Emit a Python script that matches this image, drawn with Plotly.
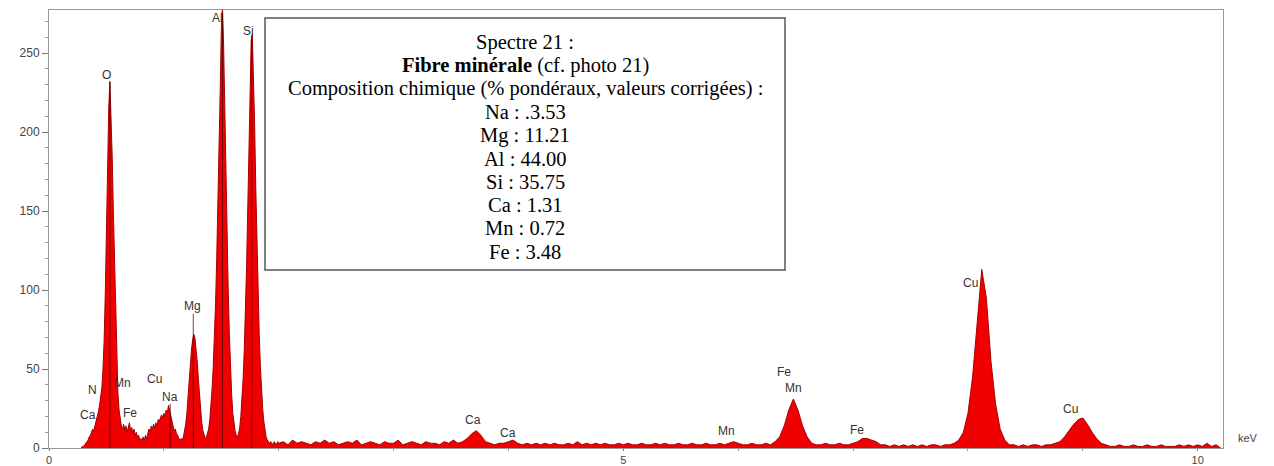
import numpy as np
import plotly.graph_objects as go

# ---------------- data ----------------
# low-energy part of the spectrum: channels of 0.01 keV starting at 0.28 keV
low_start_kev = 0.28
low_step_kev = 0.01
low_counts = [
    0, 1, 1, 2, 3, 4, 5, 7, 8, 10,            # 0.28-0.37
    12, 11, 14, 16, 19, 23, 27, 32, 38, 50,   # 0.38-0.47
    68, 98, 140, 185, 215, 232, 210, 185, 150, 118,  # 0.48-0.57 (O)
    92, 55, 35, 24, 17, 14, 12, 15, 11, 14,   # 0.58-0.67
    10, 13, 16, 11, 13, 9, 12, 8, 10, 7,      # 0.68-0.77
    8, 5, 6, 5, 7, 5, 8, 6, 9, 12,            # 0.78-0.87
    10, 14, 12, 15, 13, 16, 14, 18, 17, 19,   # 0.88-0.97
    21, 19, 22, 20, 24, 22, 27, 24, 20, 17,   # 0.98-1.07 (Na)
    14, 11, 12, 9, 8, 6, 5, 6, 5, 7,          # 1.08-1.17
    10, 15, 22, 32, 45, 55, 62, 68, 72, 70,   # 1.18-1.27 (Mg)
    64, 55, 44, 33, 24, 16, 11, 8, 6, 7,      # 1.28-1.37
    9, 12, 18, 26, 38, 52, 70, 92, 120, 150,  # 1.38-1.47
    185, 225, 265, 280, 255, 210, 170, 135, 100, 72,  # 1.48-1.57 (Al)
    50, 34, 22, 15, 11, 8, 7, 9, 13, 20,      # 1.58-1.67
    30, 44, 62, 85, 115, 150, 190, 230, 258, 262,     # 1.68-1.77 (Si)
    240, 205, 165, 130, 98, 72, 52, 36, 25, 17,       # 1.78-1.87
    11, 7, 5, 4, 3, 4, 3, 2, 4, 3,            # 1.88-1.97
    2, 4,                                     # 1.98-1.99
]

# high-energy part: channels of 0.04 keV starting at 2.00 keV
high_start_kev = 2.00
high_step_kev = 0.04
high_counts = [
    3, 4, 2, 5, 3, 4, 3, 2, 4, 3,        # 2.00-2.36
    5, 3, 4, 2, 3, 4, 3, 5, 2, 3,        # 2.40-2.76
    4, 3, 2, 4, 3, 3, 5, 2, 3, 4,        # 2.80-3.16
    3, 2, 4, 3, 3, 2, 4, 3, 5, 3,        # 3.20-3.56
    4, 6, 9, 11, 8, 4, 3, 2, 3, 3,       # 3.60-3.96 (Ca Ka)
    4, 5, 3, 2, 3, 2, 3, 2, 3, 2,        # 4.00-4.36 (Ca Kb)
    3, 2, 2, 3, 2, 4, 2, 3, 2, 3,        # 4.40-4.76
    2, 3, 2, 2, 3, 2, 3, 2, 2, 3,        # 4.80-5.16
    2, 2, 3, 2, 3, 2, 2, 3, 2, 2,        # 5.20-5.56
    3, 2, 2, 3, 2, 2, 3, 2, 3, 4,        # 5.60-5.96 (Mn)
    3, 2, 2, 3, 2, 2, 3, 2, 4, 7,        # 6.00-6.36
    14, 24, 31, 24, 14, 7, 3, 2, 2, 3,   # 6.40-6.76 (Fe Ka)
    2, 2, 3, 2, 2, 3, 4, 6, 6, 5,        # 6.80-7.16 (Fe Kb)
    4, 2, 2, 1, 2, 1, 2, 1, 2, 1,        # 7.20-7.56
    2, 1, 2, 2, 1, 2, 2, 3, 5, 10,       # 7.60-7.96
    22, 45, 80, 113, 95, 55, 28, 12, 5, 2,   # 8.00-8.36 (Cu Ka)
    2, 1, 2, 1, 2, 2, 1, 2, 2, 3,        # 8.40-8.76
    4, 7, 11, 15, 18, 19, 15, 10, 6, 3,  # 8.80-9.16 (Cu Kb)
    2, 1, 1, 2, 1, 1, 2, 1, 1, 2,        # 9.20-9.56
    1, 1, 2, 1, 1, 1, 2, 1, 2, 1,        # 9.60-9.96
    2, 1, 3, 1, 2,                       # 10.00-10.16
    0,                                   # 10.20
]

# element identification labels (text, energy keV, counts)
label_text = ["O", "Al", "Si", "Mg", "N", "Mn", "Cu", "Na", "Ca", "Fe",
              "Ca", "Ca", "Mn", "Fe", "Mn", "Fe", "Cu", "Cu"]
label_kev = [0.50, 1.47, 1.74, 1.25, 0.375, 0.64, 0.92, 1.05, 0.34, 0.705,
             3.69, 4.00, 5.90, 6.40, 6.48, 7.03, 8.02, 8.89]
label_counts = [236, 272, 264, 90, 37, 41, 43.5, 32, 21, 22,
                18, 9.5, 10.5, 48, 38, 11.5, 104.5, 25]

# KLM marker lines (energy keV, top counts)
marker_kev = [0.53, 1.055, 1.256, 1.51, 1.765]
marker_top = [232, 28, 85, 275, 261]

x_ticks = [0, 5, 10]
y_ticks = [0, 50, 100, 150, 200, 250]

box_lines = [
    "Spectre 21 :",
    "<b>Fibre minérale</b> (cf. photo 21)",
    "Composition chimique (% pondéraux, valeurs corrigées) :",
    "Na : .3.53",
    "Mg : 11.21",
    "Al : 44.00",
    "Si : 35.75",
    "Ca : 1.31",
    "Mn : 0.72",
    "Fe : 3.48",
]

# ---------------- figure ----------------
energies = np.concatenate([
    low_start_kev + low_step_kev * np.arange(len(low_counts)),
    high_start_kev + high_step_kev * np.arange(len(high_counts)),
])
counts = list(low_counts) + list(high_counts)

W, H = 1274, 466
ML, MR, MT, MB = 49, 51, 10, 18
PW, PH = W - ML - MR, H - MT - MB


def px_x(px):
    return (px - ML) / PW


def px_y(py):
    return (H - MB - py) / PH


fig = go.Figure()
fig.add_trace(go.Scatter(
    x=energies, y=counts, mode="lines",
    line=dict(color="#a80000", width=1),
    fill="tozeroy", fillcolor="#f00000",
    hoverinfo="skip", showlegend=False,
))

mx, my = [], []
for e, t in zip(marker_kev, marker_top):
    mx += [e, e, None]
    my += [0, t, None]
fig.add_trace(go.Scatter(
    x=mx, y=my, mode="lines",
    line=dict(color="rgba(70,0,0,0.75)", width=1),
    hoverinfo="skip", showlegend=False,
))

annotations = []
for t, e, c in zip(label_text, label_kev, label_counts):
    annotations.append(dict(
        x=e, y=c, xref="x", yref="y", text=t, showarrow=False,
        xanchor="center", yanchor="middle",
        font=dict(family="Arial, Liberation Sans, sans-serif", size=12, color="#333333"),
    ))

for i, line in enumerate(box_lines):
    annotations.append(dict(
        x=px_x(525), y=px_y(42 + 23.3 * i), xref="paper", yref="paper",
        text=line, showarrow=False, xanchor="center", yanchor="middle",
        font=dict(family="Liberation Serif, Times New Roman, serif", size=20.5, color="#000000"),
    ))

annotations.append(dict(
    x=px_x(1236), y=px_y(438), xref="paper", yref="paper", text="keV",
    showarrow=False, xanchor="left", yanchor="middle",
    font=dict(family="Arial, Liberation Sans, sans-serif", size=11, color="#444444"),
))

fig.update_layout(
    width=W, height=H,
    margin=dict(l=ML, r=MR, t=MT, b=MB, pad=0, autoexpand=False),
    paper_bgcolor="white", plot_bgcolor="white",
    showlegend=False,
    annotations=annotations,
    shapes=[dict(
        type="rect", xref="paper", yref="paper",
        x0=px_x(265), x1=px_x(785), y0=px_y(270), y1=px_y(18),
        line=dict(color="#555555", width=1.5), fillcolor="white", layer="above",
    )],
    xaxis=dict(
        range=[0, 10.22], tickvals=x_ticks, ticktext=[str(v) for v in x_ticks],
        ticks="outside", ticklen=2, tickcolor="#777777",
        showline=True, linecolor="#999999", linewidth=1, mirror=True,
        showgrid=False, zeroline=False, automargin=False,
        minor=dict(dtick=1, ticks="outside", ticklen=2, tickcolor="#999999"),
        tickfont=dict(family="Arial, Liberation Sans, sans-serif", size=11, color="#444444"),
    ),
    yaxis=dict(
        range=[0, 277.3], tickvals=y_ticks, ticktext=[str(v) for v in y_ticks],
        ticks="outside", ticklen=6, tickcolor="#777777",
        showline=True, linecolor="#999999", linewidth=1, mirror=True,
        showgrid=False, zeroline=False, automargin=False,
        minor=dict(dtick=10, ticks="outside", ticklen=3, tickcolor="#999999"),
        tickfont=dict(family="Arial, Liberation Sans, sans-serif", size=12, color="#444444"),
    ),
)

fig.write_html(
    "out.html",
    config={"displayModeBar": False},
    post_script="document.body.style.margin='0';document.body.style.overflow='hidden';",
)
